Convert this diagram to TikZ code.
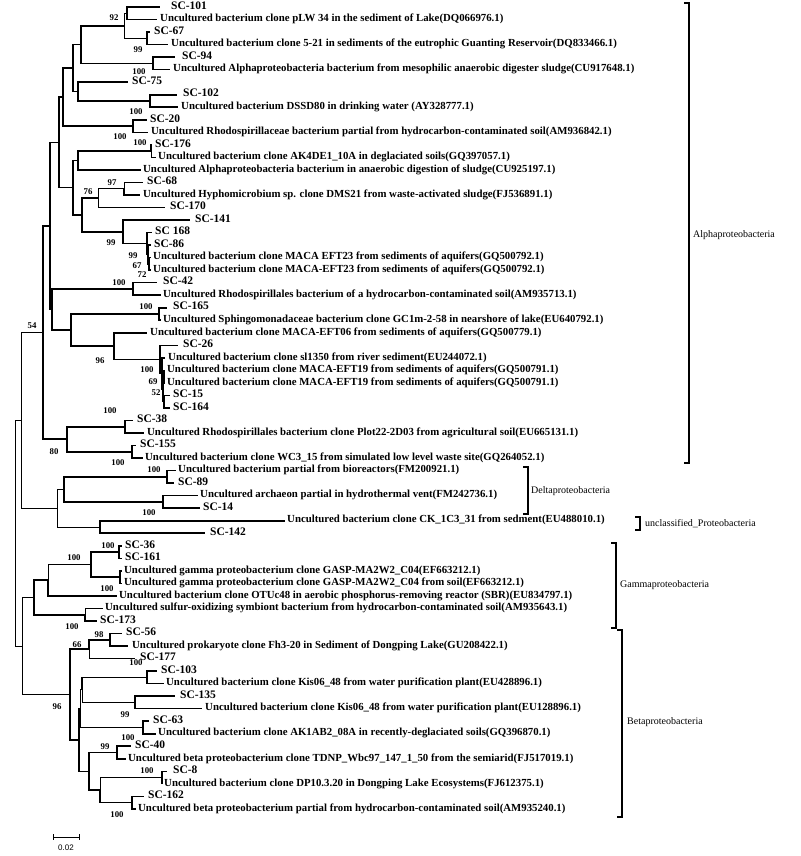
\documentclass[tikz,border=0pt]{standalone}
\usepackage{fontspec}
\setmainfont{Liberation Serif}
\newfontfamily\barfont{Liberation Sans}
\begin{document}
\begin{tikzpicture}
[x=1pt,y=-12.53pt,
 branch/.style={line width=1.6pt},
 twig/.style={line width=.8pt},
 sc/.style={anchor=west,inner ysep=0pt,text height=6pt,text depth=1.5pt,font=\bfseries\fontsize{11.5}{12}\selectfont},
 un/.style={anchor=west,inner ysep=0pt,text height=6pt,text depth=1.5pt,font=\bfseries\fontsize{10.8}{12}\selectfont},
 boot/.style={inner sep=0pt,font=\bfseries\fontsize{8.8}{9}\selectfont},
 clade/.style={anchor=west,inner sep=0pt,font=\fontsize{10}{12}\selectfont},
 bracket/.style={line width=1.8pt}]
% leaves: row / branch end / gap / text
\foreach \i/\x/\g/\t in {1/160/11/SC-101, 3/150/4/SC-67, 5/175/7/SC-94, 7/128/4/SC-75,
  8/177/6/SC-102, 10/147/3/SC-20, 12/152/3/SC-176, 15/143/4/SC-68, 17/165/5/SC-170,
  18/190/5/SC-141, 19/152/3/SC 168, 20/151/3/SC-86, 23/157/6/SC-42, 25/167/6/SC-165,
  28/178/5/SC-26, 32/170/3/SC-15, 33/170/3/SC-164, 34/133/4/SC-38, 36/136/4/SC-155,
  39/174/4/SC-89, 41/200/3/SC-14, 43/205/5/SC-142, 44/122/3/SC-36, 45/122/3/SC-161,
  50/97/3/SC-173, 51/122/4/SC-56, 53/135/5/SC-177, 54/157/4/SC-103, 56/175/5/SC-135,
  58/149/4/SC-63, 60/131/4/SC-40, 62/167/6/SC-8, 64/144/4/SC-162}
  \node[sc,inner xsep=\g pt] (l\i) at (\x,\i) {\t};
\foreach \i/\x/\g/\t in {
  2/157/3/Uncultured bacterium clone pLW 34 in the sediment of Lake(DQ066976.1),
  4/168/3/Uncultured bacterium clone 5-21 in sediments of the eutrophic Guanting Reservoir(DQ833466.1),
  6/170/3/Uncultured Alphaproteobacteria bacterium from mesophilic anaerobic digester sludge(CU917648.1),
  9/178/3/Uncultured bacterium DSSD80 in drinking water (AY328777.1),
  11/148/3/Uncultured Rhodospirillaceae bacterium partial from hydrocarbon-contaminated soil(AM936842.1),
  13/156/2/Uncultured bacterium clone AK4DE1\_10A in deglaciated soils(GQ397057.1),
  14/141/2/Uncultured Alphaproteobacteria bacterium in anaerobic digestion of sludge(CU925197.1),
  16/140/3/Uncultured Hyphomicrobium sp. clone DMS21 from waste-activated sludge(FJ536891.1),
  21/151/2/Uncultured bacterium clone MACA EFT23 from sediments of aquifers(GQ500792.1),
  22/151/2/Uncultured bacterium clone MACA-EFT23 from sediments of aquifers(GQ500792.1),
  24/161/2/Uncultured Rhodospirillales bacterium of a hydrocarbon-contaminated soil(AM935713.1),
  26/161/2/Uncultured Sphingomonadaceae bacterium clone GC1m-2-58 in nearshore of lake(EU640792.1),
  27/147/3/Uncultured bacterium clone MACA-EFT06 from sediments of aquifers(GQ500779.1),
  29/165/3/Uncultured bacterium clone sl1350 from river sediment(EU244072.1),
  30/165/2/Uncultured bacterium clone MACA-EFT19 from sediments of aquifers(GQ500791.1),
  31/165/2/Uncultured bacterium clone MACA-EFT19 from sediments of aquifers(GQ500791.1),
  35/144/3/Uncultured Rhodospirillales bacterium clone Plot22-2D03 from agricultural soil(EU665131.1),
  37/143/2/Uncultured bacterium clone WC3\_15 from simulated low level waste site(GQ264052.1),
  38/176/2/Uncultured bacterium partial from bioreactors(FM200921.1),
  40/198/2/Uncultured archaeon partial in hydrothermal vent(FM242736.1),
  42/285/2/Uncultured bacterium clone CK\_1C3\_31 from sedment(EU488010.1),
  46/122/2/Uncultured gamma proteobacterium clone GASP-MA2W2\_C04(EF663212.1),
  47/122/2/Uncultured gamma proteobacterium clone GASP-MA2W2\_C04 from soil(EF663212.1),
  48/117/2/Uncultured bacterium clone OTUc48 in aerobic phosphorus-removing reactor (SBR)(EU834797.1),
  49/103/2/Uncultured sulfur-oxidizing symbiont bacterium from hydrocarbon-contaminated soil(AM935643.1),
  52/128/4/Uncultured prokaryote clone Fh3-20 in Sediment of Dongping Lake(GU208422.1),
  55/164/2/Uncultured bacterium clone Kis06\_48 from water purification plant(EU428896.1),
  57/202/3/Uncultured bacterium clone Kis06\_48 from water purification plant(EU128896.1),
  59/156/2/Uncultured bacterium clone AK1AB2\_08A in recently-deglaciated soils(GQ396870.1),
  61/126/2/Uncultured beta proteobacterium clone TDNP\_Wbc97\_147\_1\_50 from the semiarid(FJ517019.1),
  63/162/2/Uncultured bacterium clone DP10.3.20 in Dongping Lake Ecosystems(FJ612375.1),
  65/136/2/Uncultured beta proteobacterium partial from hydrocarbon-contaminated soil(AM935240.1)}
  \node[un,inner xsep=\g pt] (l\i) at (\x,\i) {\t};
% inner nodes
\foreach \n/\x/\y in {n1/127/1.5, n2/147/3.5, n3/124/2.5, n4/153/5.5, n5/81/4, n6/150/8.5,
  n7/78/7.75, n8/73/5.875, n9/133/10.5, n10/63/8.19, n11/151/12.5, n12/78/13.25,
  n13/124/15.5, n14/98/16.25, n15a/149/21.5, n15b/148/20.75, n15c/147/19.875,
  n16/123/18.94, n17/82/17.59, n18/73/15.42, n19/59/11.8, n21/133/23.5, n22/159/25.5,
  n23c/164/30.5, n23d/164/32.5, n23e/163/31.5, n23b/162/30.25, n23/160/29.125,
  n25/114/28.06, n24/71/26.78, n20b/52/25.14, n20a/50/18.47, n26/125/34.5,
  n28/132/36.5, n27/67/35.5, n29/43/26.99, n31/167/38.5, n32/163/40.5, n33/64/39.5,
  n34/100/42.5, n35/57/41, n30/21/34, n36/119/44.5, n37/120/46.5, n38/91/45.5,
  n39/48/46.75, n40/85/49.5, n41/34/48.125, n44/110/51.5, n45/89/52.25, n46/147/54.5,
  n47/135/56.5, n49/82/55.5, n48/143/58.5, n50/80/57, n53/117/60.5, n54/162/62.5,
  n55/132/64.5, n56/100/63.5, n57/89/62, n58/79/59.5, n51/70/55.875, n43/22/52, n0/15/43}
  \coordinate (\n) at (\x,\y);
% branches
\foreach \p/\c in {n1/l1, n1/l2, n2/l3, n2/l4, n4/l5, n4/l6, n5/n3, n5/n4, n6/l8, n6/l9,
  n7/l7, n7/n6, n8/n5, n8/n7, n9/l10, n9/l11, n10/n8, n10/n9, n11/l12, n12/n11, n12/l14,
  n13/l16, n15a/l21, n15a/l22, n15b/l20, n15b/n15a, n15c/l19, n15c/n15b, n16/l18, n16/n15c,
  n17/n14, n17/n16, n18/n12, n18/n17, n19/n10, n19/n18, n20a/n19, n20a/n20b, n21/l23, n21/l24,
  n22/l25, n22/l26, n20b/n21, n20b/n24, n24/n22, n24/n25, n25/l27, n25/n23, n23/l28, n23/n23b,
  n23b/l29, n23b/n23e, n23e/n23c, n23e/n23d, n23c/l30, n23c/l31, n23d/l32, n23d/l33,
  n26/l34, n26/l35, n28/l36, n28/l37, n27/n26, n27/n28, n29/n20a, n29/n27,
  n31/l38, n31/l39, n32/l40, n32/l41, n33/n31, n33/n32, n34/l42, n34/l43,
  n36/l44, n36/l45, n37/l46, n37/l47, n38/n36, n38/n37, n39/l48, n40/l50, n41/n39, n41/n40,
  n44/l51, n44/l52, n45/n44, n46/l54, n46/l55, n47/l56, n47/l57, n49/n46, n48/l58, n48/l59,
  n53/l60, n53/l61, n54/l62, n54/l63, n55/l64, n55/l65, n56/n55, n57/n53, n57/n56,
  n58/n50, n58/n57, n51/n45, n51/n58}
  \draw[branch] (\p) |- (\c);
\foreach \p/\c in {n3/n1, n3/n2, n11/l13, n13/l15, n14/n13, n14/l17, n35/n33, n35/n34,
  n30/n29, n30/n35, n39/n38, n40/l49, n45/l53, n49/n47, n50/n49, n50/n48, n56/n54,
  n43/n41, n43/n51, n0/n30, n0/n43}
  \draw[twig] (\p) |- (\c);
\begin{scope}[y=-1pt,yshift=-5.53pt]
\useasboundingbox (0,0) rectangle (800,856);
% bootstrap values
\foreach \x/\y/\v [count=\k] in {114/18/92, 138/50/99, 139/72/100, 136/112/100, 120/137/100,
  140/143/100, 112/183/97, 88/192/76, 111/243/99, 133/256/99, 137/266/67, 142/275/72,
  119/283/100, 32/326/54, 146/307/100, 100/361/96, 147/370/100, 153/382/69, 156/393/52,
  110/411/100, 54/452/80, 118/463/100, 154/470/100, 149/513/100, 108/546/100, 74/558/100,
  107/589/100, 72/627/100, 99/635/98, 77/645/66, 136/663/100, 57/707/96, 125/715/99,
  128/738/100, 105/747/99, 147/771/100, 117/815/100}
  \node[boot] (b\k) at (\x,\y) {\v};
% groups
\draw[bracket] (684,3) -- (689,3) -- (689,463) -- (684,463);
\draw[bracket] (523,467) -- (528,467) -- (528,514) -- (523,514);
\draw[bracket] (635,517) -- (640,517) -- (640,530) -- (635,530);
\draw[bracket] (611,543) -- (616,543) -- (616,628) -- (611,628);
\draw[bracket] (617,630) -- (622,630) -- (622,817) -- (617,817);
\node[clade] (alpha) at (693,235) {Alphaproteobacteria};
\node[clade] (delta) at (531,491) {Deltaproteobacteria};
\node[clade] (uncl) at (645,524) {unclassified\_Proteobacteria};
\node[clade] (gamma) at (620,585) {Gammaproteobacteria};
\node[clade] (beta) at (627,722) {Betaproteobacteria};
% scale bar
\coordinate (s1) at (53,837);
\coordinate (s2) at (79,837);
\draw[twig] (s1) -- (s2);
\draw[twig] ([yshift=3pt]s1) -- ([yshift=-3pt]s1);
\draw[twig] ([yshift=3pt]s2) -- ([yshift=-3pt]s2);
\node[inner sep=0pt,font=\barfont\fontsize{8}{9}\selectfont] (sl) at (66,848) {0.02};
\end{scope}
\end{tikzpicture}
\end{document}
